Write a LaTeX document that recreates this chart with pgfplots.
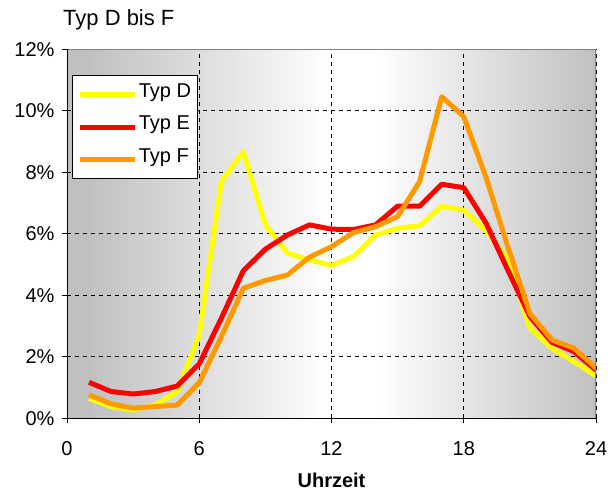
\documentclass[border=0pt]{standalone}
\usepackage{pgfplots}
\pgfplotsset{compat=1.18}
\usepackage{fontspec}
\setmainfont{Liberation Sans}
\definecolor{bggray}{RGB}{192,192,192}
\definecolor{cD}{RGB}{255,255,0}
\definecolor{cE}{RGB}{255,0,0}
\definecolor{cF}{RGB}{255,153,0}
\pgfdeclarehorizontalshading{bgshade}{100bp}{color(0bp)=(bggray); color(25bp)=(bggray); color(27bp)=(bggray); color(50bp)=(white); color(54bp)=(white); color(75bp)=(bggray); color(100bp)=(bggray)}
\begin{document}
\begin{tikzpicture}
\useasboundingbox (0,0) rectangle (610bp,492bp);
\node[anchor=base west, inner sep=0pt, font=\fontsize{22bp}{26bp}\selectfont] at (63bp,466bp) {Typ D bis F};
\begin{axis}[
  at={(67bp,73.7bp)}, anchor=south west,
  scale only axis, width=529bp, height=369bp,
  xmin=0, xmax=24, ymin=0, ymax=12,
  xtick={0,6,12,18,24}, ytick={0,2,...,12},
  yticklabel={\pgfmathprintnumber{\tick}\%},
  /pgf/number format/assume math mode=true,
  ticklabel style={font=\fontsize{20bp}{24bp}\selectfont},
  xticklabel style={yshift=-15bp},
  yticklabel style={xshift=-4bp},
  tick align=outside, xtick pos=bottom, ytick pos=left,
  major tick length=5bp,
  tick style={black, line width=1bp},
  grid=major,
  major grid style={black, line width=0.8bp, dash pattern=on 4bp off 4bp},
  axis line style={draw=none},
  axis background/.style={shade, shading=bgshade},
  xlabel={\textbf{Uhrzeit}},
  xlabel style={at={(rel axis cs:0.5,0)}, anchor=base, yshift=-68.7bp, font=\fontsize{20bp}{24bp}\selectfont},
  legend style={at={(rel axis cs:0.01,0.93)}, anchor=north west, draw=black, fill=white, line width=1bp,
    font=\fontsize{20bp}{24bp}\selectfont, row sep=11.5bp, inner xsep=5bp, inner ysep=8.5bp,
    nodes={inner sep=1bp, text height=12bp, text depth=7bp}},
  legend cell align=left,
  legend image code/.code={\path (0bp,0bp) -- (54bp,0bp); \draw[#1] (8bp,0bp) -- (55bp,0bp);},
  every axis plot/.append style={line width=5bp, line join=round, no markers},
]
\addplot[cD] coordinates {(1,0.65) (2,0.38) (3,0.27) (4,0.43) (5,0.87) (6,2.71) (7,7.7) (8,8.67) (9,6.29) (10,5.37) (11,5.15) (12,4.97) (13,5.26) (14,5.96) (15,6.18) (16,6.26) (17,6.9) (18,6.77) (19,6.12) (20,5.15) (21,2.93) (22,2.28) (23,1.84) (24,1.38)};
\addlegendentry{Typ D}
\addplot[cE] coordinates {(1,1.17) (2,0.87) (3,0.79) (4,0.87) (5,1.05) (6,1.77) (7,3.25) (8,4.8) (9,5.5) (10,5.96) (11,6.29) (12,6.15) (13,6.14) (14,6.29) (15,6.9) (16,6.9) (17,7.61) (18,7.5) (19,6.36) (20,4.82) (21,3.31) (22,2.47) (23,2.17) (24,1.57)};
\addlegendentry{Typ E}
\addplot[cF] coordinates {(1,0.76) (2,0.47) (3,0.33) (4,0.38) (5,0.43) (6,1.16) (7,2.65) (8,4.23) (9,4.48) (10,4.66) (11,5.24) (12,5.58) (13,6.04) (14,6.23) (15,6.56) (16,7.7) (17,10.46) (18,9.81) (19,7.86) (20,5.58) (21,3.41) (22,2.55) (23,2.28) (24,1.63)};
\addlegendentry{Typ F}
\draw[gray, line width=1.2bp] (rel axis cs:0,1) -- (rel axis cs:1,1) -- (rel axis cs:1,0);
\draw[black, line width=1.2bp] (rel axis cs:0,1) -- (rel axis cs:0,0) -- (rel axis cs:1,0);
\end{axis}
\end{tikzpicture}
\end{document}
